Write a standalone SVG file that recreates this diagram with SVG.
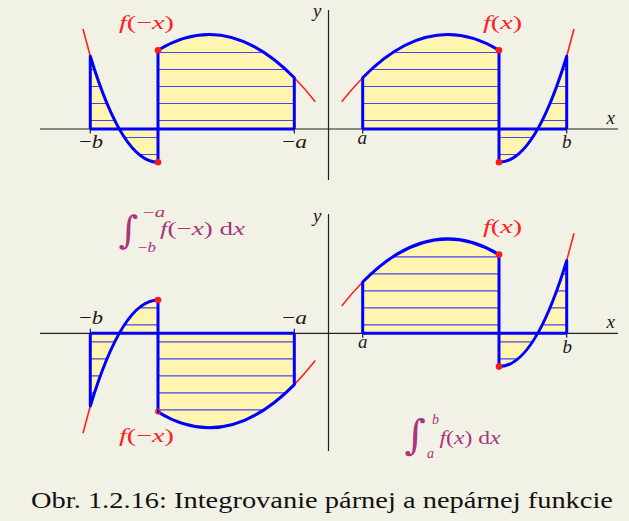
<svg xmlns="http://www.w3.org/2000/svg" width="629" height="521" viewBox="0 0 629 521">
<style>
.m{font-family:'Liberation Serif','Times New Roman',serif;font-size:19px}
.s{font-family:'Liberation Serif','Times New Roman',serif;font-size:14px}
.i{font-style:italic}
.red{fill:#ff2020}
.blk{fill:#1a1a1a}
.mag{fill:#a8357d}
.axis{stroke:#222;stroke-width:1.2;fill:none}
.fillY{fill:#fff5b0}
.hatch{stroke:#4646f0;stroke-width:1.2;fill:none}
.bl{stroke:#0000ff;stroke-width:3;fill:none;stroke-linejoin:round}
.rd{stroke:#ff2020;stroke-width:1.6;fill:none}
.tick{stroke:#222;stroke-width:1.2;fill:none}
.dot{fill:#ff1a1a}
.int{font-family:'DejaVu Serif',serif;fill:#a8357d;text-anchor:middle}
.cap{font-family:'Liberation Serif','Times New Roman',serif;font-size:23px;fill:#111}
</style>
<defs>
<clipPath id="clipR"><path d="M362.7,129V77.7Q430.85,8.5 499,50.3V129Z M499,129V162.3C521.57,162.3 544.13,130.44 566.7,56.3V129Z"/></clipPath>
<g id="graph">
<path class="fillY" d="M362.7,129V77.7Q430.85,8.5 499,50.3V129Z M499,129V162.3C521.57,162.3 544.13,130.44 566.7,56.3V129Z"/>
<path class="hatch" clip-path="url(#clipR)" d="M362.7,35.5H566.7M362.7,52.5H566.7M362.7,69.5H566.7M362.7,86.5H566.7M362.7,103.5H566.7M362.7,120.5H566.7M362.7,137.5H566.7M362.7,154.5H566.7"/>
<path class="tick" d="M362.7,129V133.5M566.7,129V133.5"/>
<path class="rd" d="M341.7,101.7Q352.2,88.4 362.7,77.7M566.7,56.3L574,29"/>
<path class="bl" d="M362.7,129H566.7M362.7,129V77.7Q430.85,8.5 499,50.3V162.3C521.57,162.3 544.13,130.44 566.7,56.3V129"/>
</g>
</defs>
<rect width="629" height="521" fill="#f2f1e6"/>
<g id="axes">
<path class="axis" d="M40,129H618M328.5,10V180"/>
<path class="axis" d="M40,333.3H618M328.5,214V451"/>
</g>
<g id="top-right">
<use href="#graph"/>
<circle class="dot" cx="499" cy="50.3" r="3.3"/>
<circle class="dot" cx="499" cy="162.3" r="3.3"/>
</g>
<g id="top-left">
<use href="#graph" transform="matrix(-1,0,0,1,657,0)"/>
<circle class="dot" cx="158" cy="50.3" r="3.3"/>
<circle class="dot" cx="158" cy="162.3" r="3.3"/>
</g>
<g id="bottom-right">
<use href="#graph" transform="translate(0,204.3)"/>
<circle class="dot" cx="499" cy="254.6" r="3.3"/>
<circle class="dot" cx="499" cy="366.6" r="3.3"/>
</g>
<g id="bottom-left">
<use href="#graph" transform="matrix(-1,0,0,-1,657,462.3)"/>
<circle class="dot" cx="158" cy="300" r="3.3"/>
<circle cx="158" cy="411.5" r="2.3" fill="none" stroke="#ff1a1a" stroke-width="1.2"/>
</g>
<g id="labels-top">
<text class="m i blk" x="313" y="17">y</text>
<text class="m i blk" x="606.5" y="124">x</text>
<text class="m red" x="119" y="29" textLength="55" lengthAdjust="spacingAndGlyphs"><tspan class="i">f</tspan>(−<tspan class="i">x</tspan>)</text>
<text class="m red" x="483" y="29" textLength="39" lengthAdjust="spacingAndGlyphs"><tspan class="i">f</tspan>(<tspan class="i">x</tspan>)</text>
<text class="m blk" x="79" y="148" textLength="24" lengthAdjust="spacingAndGlyphs">−<tspan class="i">b</tspan></text>
<text class="m blk" x="282" y="148" textLength="25" lengthAdjust="spacingAndGlyphs">−<tspan class="i">a</tspan></text>
<text class="m i blk" x="357.5" y="144">a</text>
<text class="m i blk" x="562" y="148">b</text>
</g>
<g id="labels-bottom">
<text class="m i blk" x="313" y="222">y</text>
<text class="m i blk" x="606.5" y="328">x</text>
<text class="m red" x="119" y="442" textLength="55" lengthAdjust="spacingAndGlyphs"><tspan class="i">f</tspan>(−<tspan class="i">x</tspan>)</text>
<text class="m red" x="483" y="233" textLength="39" lengthAdjust="spacingAndGlyphs"><tspan class="i">f</tspan>(<tspan class="i">x</tspan>)</text>
<text class="m blk" x="79" y="324" textLength="24" lengthAdjust="spacingAndGlyphs">−<tspan class="i">b</tspan></text>
<text class="m blk" x="282" y="324" textLength="25" lengthAdjust="spacingAndGlyphs">−<tspan class="i">a</tspan></text>
<text class="m i blk" x="358" y="348">a</text>
<text class="m i blk" x="562.5" y="353">b</text>
</g>
<g id="integral-left">
<text class="int" x="128.5" y="243" font-size="38">∫</text>
<text class="s mag" x="143" y="217" textLength="22" lengthAdjust="spacingAndGlyphs">−<tspan class="i">a</tspan></text>
<text class="s mag" x="138" y="252" textLength="18" lengthAdjust="spacingAndGlyphs">−<tspan class="i">b</tspan></text>
<text class="m mag" x="160" y="235" textLength="85" lengthAdjust="spacingAndGlyphs"><tspan class="i">f</tspan>(−<tspan class="i">x</tspan>) d<tspan class="i">x</tspan></text>
</g>
<g id="integral-right">
<text class="int" x="415" y="449" font-size="41">∫</text>
<text class="s i mag" x="432" y="424">b</text>
<text class="s i mag" x="427" y="458">a</text>
<text class="m mag" x="439.5" y="444" textLength="61" lengthAdjust="spacingAndGlyphs"><tspan class="i">f</tspan>(<tspan class="i">x</tspan>) d<tspan class="i">x</tspan></text>
</g>
<text class="cap" x="31" y="508" textLength="582" lengthAdjust="spacingAndGlyphs">Obr. 1.2.16: Integrovanie párnej a nepárnej funkcie</text>
</svg>
